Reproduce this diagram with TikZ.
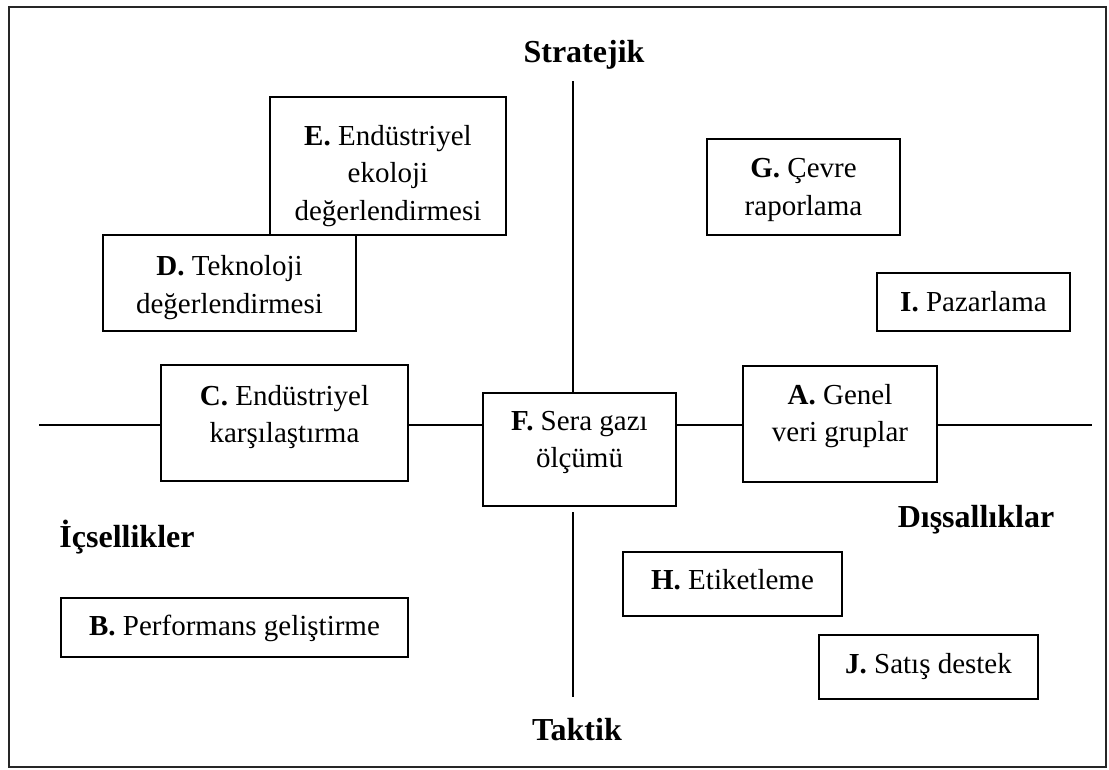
\documentclass[tikz,border=0pt]{standalone}
\usepackage{fontspec}
\setmainfont{Liberation Serif}
\begin{document}
\begin{tikzpicture}[x=1pt,y=-1pt,
  box/.style={draw, line width=1.5pt, inner sep=0pt},
  axis/.style={line width=1.3pt},
  lbl/.style={font=\fontsize{29}{37.5}\selectfont, align=center, inner sep=0pt, anchor=base},
  head/.style={font=\fontsize{32}{38}\selectfont\bfseries, inner sep=0pt, anchor=base}]
\useasboundingbox (0,0) rectangle (1109,769);
% outer frame
\draw[line width=1.6pt, draw=black!85] (9,7) rectangle (1106,767);

% boxes
\node[box, minimum width=236pt, minimum height=138pt] (E) at (388,166) {};
\node[box, minimum width=253pt, minimum height=96pt]  (D) at (229.5,283) {};
\node[box, minimum width=193pt, minimum height=96pt]  (G) at (803.5,187) {};
\node[box, minimum width=193pt, minimum height=58pt]  (I) at (973.5,302) {};
\node[box, minimum width=247pt, minimum height=116pt] (C) at (284.5,423) {};
\node[box, minimum width=193pt, minimum height=113pt] (F) at (579.5,449.5) {};
\node[box, minimum width=194pt, minimum height=116pt] (A) at (840,424) {};
\node[box, minimum width=347pt, minimum height=59pt]  (B) at (234.5,627.5) {};
\node[box, minimum width=219pt, minimum height=64pt]  (H) at (732.5,584) {};
\node[box, minimum width=219pt, minimum height=64pt]  (J) at (928.5,667) {};

% box texts (anchored on the baseline of their last line)
\node[lbl] (tE) at (388,220) {\textbf{E.} Endüstriyel\\ekoloji\\değerlendirmesi};
\node[lbl] (tD) at (229.5,313) {\textbf{D.} Teknoloji\\değerlendirmesi};
\node[lbl] (tG) at (803.5,215) {\textbf{G.} Çevre\\raporlama};
\node[lbl] (tI) at (973.5,311) {\textbf{I.} Pazarlama};
\node[lbl] (tC) at (284.5,442.5) {\textbf{C.} Endüstriyel\\karşılaştırma};
\node[lbl] (tF) at (579.5,467.5) {\textbf{F.} Sera gazı\\ölçümü};
\node[lbl] (tA) at (840,441.5) {\textbf{A.} Genel\\veri gruplar};
\node[lbl] (tB) at (234.5,635) {\textbf{B.} Performans geliştirme};
\node[lbl] (tH) at (732.5,589) {\textbf{H.} Etiketleme};
\node[lbl] (tJ) at (928.5,673) {\textbf{J.} Satış destek};

% axis headings
\node[head] (strat) at (584,62) {Stratejik};
\node[head] (takt) at (577,740) {Taktik};
\node[head] (ic) at (127,547) {İçsellikler};
\node[head] (dis) at (976,527) {Dışsallıklar};

% axes
\coordinate (hl) at (39,425);
\coordinate (hr) at (1092,425);
\coordinate (vt) at (573,81);
\coordinate (vb1) at (573,512);
\coordinate (vb2) at (573,697);
\draw[axis] (hl) -- (C.west |- hl);
\draw[axis] (C.east |- hl) -- (F.west |- hl);
\draw[axis] (F.east |- hl) -- (A.west |- hl);
\draw[axis] (A.east |- hl) -- (hr);
\draw[axis] (vt) -- (vt |- F.north);
\draw[axis] (vb1) -- (vb2);
\end{tikzpicture}
\end{document}
